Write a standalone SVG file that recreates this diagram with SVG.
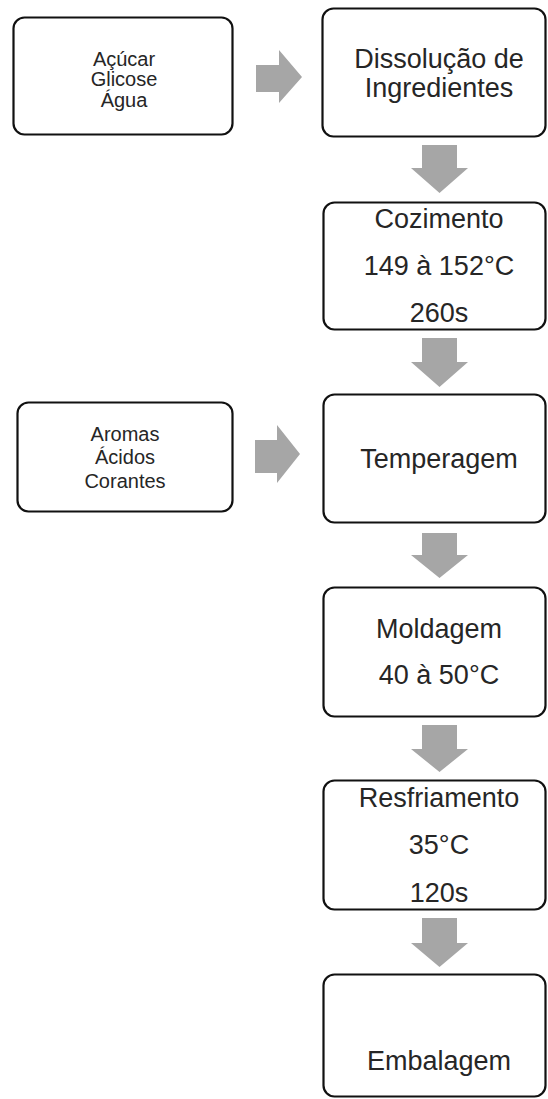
<svg xmlns="http://www.w3.org/2000/svg" width="548" height="1099" viewBox="0 0 548 1099">
<style>
.box{fill:#fff;stroke:#111;stroke-width:2.2}
.arr{fill:#a6a6a6}
.t{font-family:"Liberation Sans",Arial,sans-serif;fill:#262626;text-anchor:middle}
.big{font-size:27px}
.sm{font-size:20px}
</style>
<rect width="548" height="1099" fill="#fff"/>
<g id="connectors">
<polygon class="arr" points="256,65 279,65 279,50 302,77 279,103 279,92 256,92"/>
<polygon class="arr" points="255,440 277,440 277,425 300,454 277,483 277,473 255,473"/>
<polygon class="arr" points="422,145 457,145 457,168 468,168 439.5,193 411,168 422,168"/>
<polygon class="arr" points="422,338 457,338 457,362 468,362 439.5,387 411,362 422,362"/>
<polygon class="arr" points="422,533 457,533 457,555 468,555 439.5,578 411,555 422,555"/>
<polygon class="arr" points="422,725 457,725 457,749 468,749 439.5,772 411,749 422,749"/>
<polygon class="arr" points="422,918 457,918 457,943 468,943 439.5,967 411,943 422,943"/>
</g>
<g id="ingredientes1">
<rect class="box" x="13.5" y="17.5" width="219" height="117" rx="11"/>
<text class="t sm" x="124" y="66">Açúcar</text>
<text class="t sm" x="124" y="86">Glicose</text>
<text class="t sm" x="124" y="107">Água</text>
</g>
<g id="dissolucao">
<rect class="box" x="322.5" y="8.5" width="223" height="128" rx="11"/>
<text class="t big" x="439" y="68">Dissolução de</text>
<text class="t big" x="439" y="97">Ingredientes</text>
</g>
<g id="cozimento">
<rect class="box" x="323.5" y="202.5" width="222" height="127" rx="11"/>
<text class="t big" x="439" y="228">Cozimento</text>
<text class="t big" x="439" y="275">149 à 152°C</text>
<text class="t big" x="439" y="322">260s</text>
</g>
<g id="ingredientes2">
<rect class="box" x="17.5" y="402.5" width="215" height="109" rx="11"/>
<text class="t sm" x="125" y="441">Aromas</text>
<text class="t sm" x="125" y="464">Ácidos</text>
<text class="t sm" x="125" y="488">Corantes</text>
</g>
<g id="temperagem">
<rect class="box" x="323.5" y="394.5" width="222" height="128" rx="11"/>
<text class="t big" x="439" y="468">Temperagem</text>
</g>
<g id="moldagem">
<rect class="box" x="323.5" y="587.5" width="222" height="129" rx="11"/>
<text class="t big" x="439" y="638">Moldagem</text>
<text class="t big" x="439" y="684">40 à 50°C</text>
</g>
<g id="resfriamento">
<rect class="box" x="323.5" y="780.5" width="222" height="129" rx="11"/>
<text class="t big" x="439" y="807">Resfriamento</text>
<text class="t big" x="439" y="854">35°C</text>
<text class="t big" x="439" y="902">120s</text>
</g>
<g id="embalagem">
<rect class="box" x="323.5" y="974.5" width="222" height="122" rx="11"/>
<text class="t big" x="439" y="1070">Embalagem</text>
</g>
</svg>
